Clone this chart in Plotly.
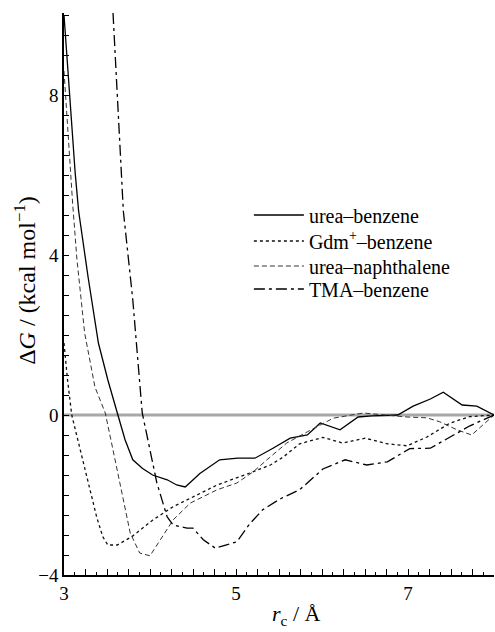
import plotly.graph_objects as go

# ---- data ----
ub_x = [3.00, 3.03, 3.06, 3.09, 3.13, 3.17, 3.28, 3.40, 3.51, 3.62, 3.71, 3.80, 3.91, 4.03,
        4.20, 4.31, 4.41, 4.58, 4.81, 5.02, 5.22, 5.43, 5.63, 5.83, 5.98, 6.21, 6.42, 6.58,
        6.88, 7.06, 7.26, 7.41, 7.63, 7.80, 8.00]
ub_y = [10.0, 9.05, 8.05, 7.05, 6.05, 5.1, 3.45, 1.8, 0.875, 0.05, -0.62, -1.12, -1.33, -1.5,
        -1.62, -1.75, -1.8, -1.46, -1.12, -1.08, -1.08, -0.83, -0.58, -0.5, -0.2, -0.37, -0.05,
        -0.02, 0.0, 0.22, 0.4, 0.57, 0.25, 0.22, 0.0]

gdm_x = [3.00, 3.04, 3.09, 3.19, 3.28, 3.38, 3.45, 3.51, 3.62, 3.79, 4.03, 4.27, 4.47, 4.78,
         5.16, 5.40, 5.55, 5.74, 6.01, 6.24, 6.50, 6.76, 6.99, 7.22, 7.49, 7.72, 8.00]
gdm_y = [1.8, 0.9, 0.0, -0.87, -1.7, -2.55, -3.04, -3.25, -3.25, -3.04, -2.63, -2.29, -2.08,
         -1.75, -1.45, -1.25, -1.05, -0.72, -0.56, -0.7, -0.58, -0.72, -0.77, -0.55, -0.2,
         -0.04, 0.0]

un_x = [3.00, 3.05, 3.10, 3.15, 3.24, 3.36, 3.48, 3.57, 3.69, 3.77, 3.88, 4.00, 4.12, 4.27,
        4.47, 4.78, 5.01, 5.20, 5.36, 5.59, 5.83, 6.13, 6.48, 6.99, 7.22, 7.37, 7.57, 7.74,
        7.87, 8.00]
un_y = [8.6, 6.8, 5.3, 3.9, 2.05, 0.7, 0.05, -0.875, -2.125, -2.95, -3.45, -3.52, -3.12, -2.62,
        -2.2, -1.87, -1.7, -1.42, -1.12, -0.7, -0.42, -0.08, 0.05, -0.05, -0.07, -0.17, -0.37,
        -0.5, -0.25, 0.0]

tma_x = [3.57, 3.63, 3.69, 3.80, 3.91, 4.00, 4.08, 4.20, 4.27, 4.43, 4.50, 4.62, 4.76, 5.01,
         5.16, 5.31, 5.51, 5.74, 6.01, 6.27, 6.52, 6.76, 7.02, 7.26, 7.49, 7.72, 8.00]
tma_y = [10.05, 7.6, 5.1, 2.875, 0.05, -0.875, -1.7, -2.55, -2.75, -2.83, -2.83, -3.12, -3.33,
         -3.17, -2.72, -2.37, -2.1, -1.87, -1.35, -1.12, -1.25, -1.17, -0.84, -0.83, -0.56,
         -0.27, 0.0]

x_tickvals = [3, 5, 7]
y_tickvals = [-4, 0, 4, 8]

SERIF = "Liberation Serif"

fig = go.Figure()

series = [
    ("urea\u2013benzene", ub_x, ub_y, "solid", "#000000", 1.3, "legend"),
    ("Gdm<sup>+</sup>\u2013benzene", gdm_x, gdm_y, "dot", "#111111", 1.3, "legend2"),
    ("urea\u2013naphthalene", un_x, un_y, "5px,3px", "#333333", 1.0, "legend3"),
    ("TMA\u2013benzene", tma_x, tma_y, "11px,4px,3px,4px", "#000000", 1.3, "legend4"),
]
for name, xs, ys, dash, color, w, lg in series:
    fig.add_trace(go.Scatter(x=xs, y=ys, mode="lines", name=name, legend=lg,
                             line=dict(color=color, width=w, dash=dash)))

# invisible trace to carry the fine-tick overlay axis
fig.add_trace(go.Scatter(x=[3], y=[0], xaxis="x2", mode="markers",
                         marker=dict(opacity=0), showlegend=False, hoverinfo="skip"))

fig.add_shape(type="line", xref="x", yref="y", x0=3, x1=8, y0=0, y1=0,
              line=dict(color="#a8a8a8", width=3), layer="below")


def leg(yc):
    return dict(x=0.43, y=yc, xanchor="left", yanchor="middle",
                bgcolor="rgba(0,0,0,0)", font=dict(family=SERIF, size=20),
                itemwidth=50, tracegroupgap=0)


fig.update_layout(
    width=495, height=632,
    margin=dict(l=64, r=1, t=13, b=57),
    plot_bgcolor="white", paper_bgcolor="white",
    font=dict(family=SERIF, size=19, color="black"),
    showlegend=True,
    legend=leg(0.6406),
    legend2=leg(0.5943),
    legend3=leg(0.5498),
    legend4=leg(0.5089),
    xaxis=dict(range=[3, 8], tickvals=x_tickvals, ticks="inside", ticklen=6,
               tickcolor="black", showline=True, linecolor="black", linewidth=1.5,
               showgrid=False, zeroline=False,
               minor=dict(tick0=3, dtick=0.25, ticks="inside", ticklen=6,
                          tickcolor="black", showgrid=False),
               tickfont=dict(family=SERIF, size=19, color="black")),
    xaxis2=dict(range=[3, 8], overlaying="x", anchor="y", side="bottom",
                tick0=3, dtick=0.125, ticks="inside", ticklen=3, tickcolor="black",
                showticklabels=False, showline=False, showgrid=False, zeroline=False),
    yaxis=dict(range=[-4, 10.05], tickvals=y_tickvals, ticks="inside", ticklen=5,
               tickcolor="black", showline=True, linecolor="black", linewidth=1.5,
               showgrid=False, zeroline=False,
               minor=dict(tick0=0, dtick=0.5, ticks="inside", ticklen=5,
                          tickcolor="black", showgrid=False),
               tickfont=dict(family=SERIF, size=19, color="black")),
    annotations=[
        dict(text="\u0394<i>G</i> / (kcal mol<sup>\u22121</sup>)", textangle=-90,
             xref="paper", yref="paper", x=-0.091, y=0.525, xanchor="center",
             yanchor="middle", showarrow=False, font=dict(family=SERIF, size=24)),
        dict(text="<i>r</i><sub>c</sub> / \u00c5", xref="paper", yref="paper",
             x=0.54, y=-0.071, xanchor="center", yanchor="middle", showarrow=False,
             font=dict(family=SERIF, size=22)),
    ],
)

fig.write_html("out.html")
